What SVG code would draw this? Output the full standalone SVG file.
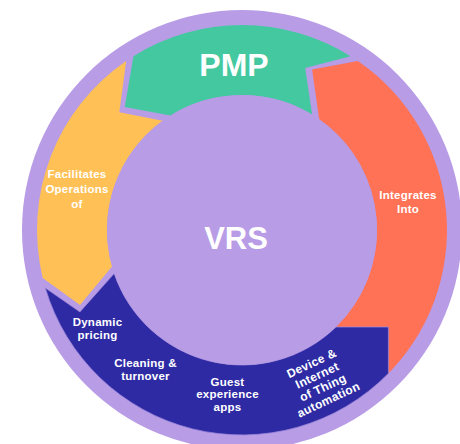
<svg xmlns="http://www.w3.org/2000/svg" width="460" height="444" viewBox="0 0 460 444">
<style>
.lbl{font-family:"Liberation Sans",Arial,sans-serif;font-weight:bold;fill:#ffffff;text-anchor:middle}
.sm{font-size:11.5px;letter-spacing:0.25px}
.rot{font-size:12px;letter-spacing:0.3px}
.big{font-size:32px}
</style>
<rect width="460" height="444" fill="#ffffff"/>
<circle cx="242" cy="230" r="220" fill="#b89ce6"/>
<g id="connectors">
<g id="orange">
<path d="M357.8,60.9 A205,205 0 0 1 384.4,377.5 L335.8,327.1 A135,135 0 0 0 319.2,119.3 L312.1,69.6 Z" fill="#ff7256"/>
<text class="lbl sm" x="408" y="199">Integrates</text>
<text class="lbl sm" x="408" y="213">Into</text>
</g>
<g id="green">
<path d="M133.4,56.2 A205,205 0 0 1 350.6,56.2 L305.2,67.9 L312.1,114.6 A135,135 0 0 0 170.5,115.5 L124.8,106.9 Z" fill="#43c8a0"/>
</g>
<g id="yellow">
<path d="M126.2,60.9 A205,205 0 0 0 42.7,277.9 L80,304.9 L112,266.5 A135,135 0 0 1 162.6,120.8 L119.3,112.3 Z" fill="#ffc156"/>
<text class="lbl sm" x="77" y="178" fill="#fff8ea">Facilitates</text>
<text class="lbl sm" x="77" y="193">Operations</text>
<text class="lbl sm" x="77" y="207.5">of</text>
</g>
<g id="blue">
<path d="M45.3,287.9 A205,205 0 0 0 388.4,373.4 L388.4,327 L335.9,327 A135,135 0 0 1 114.2,273.5 L79.9,311.9 Z" fill="#2e2aa4" stroke="#9b86d8" stroke-width="0.8"/>
<text class="lbl sm" x="97.5" y="326">Dynamic</text>
<text class="lbl sm" x="97.5" y="339">pricing</text>
<text class="lbl sm" x="145.5" y="366.5">Cleaning &amp;</text>
<text class="lbl sm" x="145.5" y="379.5">turnover</text>
<text class="lbl sm" x="227.5" y="385.5">Guest</text>
<text class="lbl sm" x="227.5" y="398">experience</text>
<text class="lbl sm" x="227.5" y="410.5">apps</text>
<g transform="translate(320,381.5) rotate(-25)">
<text class="lbl rot" x="0" y="-16.1">Device &amp;</text>
<text class="lbl rot" x="0" y="-2.7">Internet</text>
<text class="lbl rot" x="0" y="10.7">of Thing</text>
<text class="lbl rot" x="0" y="24.1">automation</text>
</g>
</g>
</g>
<g id="pmp">
<text class="lbl big" x="234" y="76">PMP</text>
</g>
<g id="vrs">
<circle cx="242" cy="230" r="135" fill="#b89ce6"/>
<text class="lbl" x="236" y="249" style="font-size:31px">VRS</text>
</g>
</svg>
